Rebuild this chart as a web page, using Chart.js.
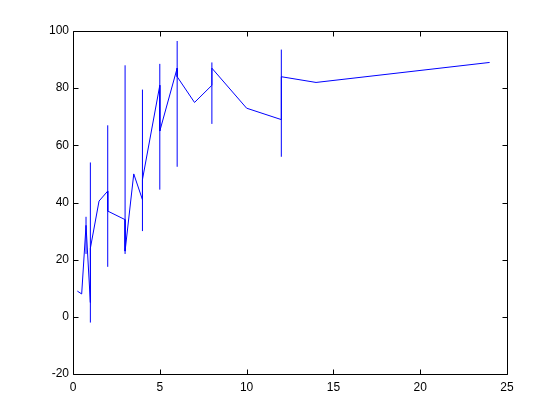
<!DOCTYPE html>
<html>
<head>
<meta charset="utf-8">
<script src="https://cdn.jsdelivr.net/npm/chart.js@4"></script>
<style>
  html, body { margin: 0; padding: 0; background: #fff; }
  #wrap { width: 560px; height: 420px; }
</style>
</head>
<body>
<div id="wrap"><canvas id="myChart" width="560" height="420"></canvas></div>
<script>
// measured points (x repeats where the curve jumps)
const xVals = [0.25, 0.5, 0.75, 1, 1, 1.5, 2, 2, 3, 3, 3.5, 4, 4, 5, 5, 6, 6, 7, 8, 8, 10, 12, 12, 14, 24];
const yVals = [9, 8, 32, 5, 24, 40.5, 44, 37, 34, 23, 50, 41, 48, 81, 65, 87, 84, 75, 81, 87, 73, 69, 84, 82, 89];

// error bars: position, low end, high end
const errX    = [0.75, 1, 2, 3, 4, 5, 6, 8, 12];
const errLow  = [22, -2, 17.5, 22, 30, 44.5, 52.5, 67.5, 56];
const errHigh = [35, 54, 67, 88, 79.5, 88.5, 96.5, 89, 93.5];

const xTicks = [0, 5, 10, 15, 20, 25];
const yTicks = [-20, 0, 20, 40, 60, 80, 100];

const linePts = xVals.map((x, i) => ({ x: x, y: yVals[i] }));

// each bar is its own segment, split by a null point
const barPts = [];
errX.forEach((x, i) => {
  barPts.push({ x: x, y: errLow[i] });
  barPts.push({ x: x, y: errHigh[i] });
  barPts.push({ x: x, y: null });
});

// box round the plot with inward ticks on every side (matlab look)
const boxPlugin = {
  id: 'box',
  afterDraw(chart) {
    const c = chart.ctx;
    const a = chart.chartArea;
    const xs = chart.scales.x;
    const ys = chart.scales.y;
    const L = Math.round(a.left) + 0.5, R = Math.round(a.right) + 0.5;
    const T = Math.round(a.top) + 0.5, B = Math.round(a.bottom) + 0.5;
    const len = 5;
    c.save();
    c.strokeStyle = '#000';
    c.lineWidth = 1;
    c.beginPath();
    c.rect(L, T, R - L, B - T);
    xTicks.forEach(v => {
      const px = Math.round(xs.getPixelForValue(v)) + 0.5;
      c.moveTo(px, B); c.lineTo(px, B - len);
      c.moveTo(px, T); c.lineTo(px, T + len);
    });
    yTicks.forEach(v => {
      const py = Math.round(ys.getPixelForValue(v)) + 0.5;
      c.moveTo(L, py); c.lineTo(L + len, py);
      c.moveTo(R, py); c.lineTo(R - len, py);
    });
    c.stroke();
    c.restore();
  }
};

const ctx = document.getElementById('myChart');
new Chart(ctx, {
  type: 'scatter',
  data: {
    datasets: [{
      label: 'errors',
      data: barPts,
      showLine: true,
      spanGaps: false,
      borderColor: '#0000ff',
      borderWidth: 1,
      pointRadius: 0
    }, {
      label: 'data',
      data: linePts,
      showLine: true,
      borderColor: '#0000ff',
      borderWidth: 1,
      pointRadius: 0,
      tension: 0
    }]
  },
  options: {
    responsive: false,
    animation: false,
    layout: { padding: { top: 31, right: 53, left: 0, bottom: 0 } },
    plugins: {
      legend: { display: false },
      tooltip: { enabled: false }
    },
    scales: {
      x: {
        type: 'linear',
        min: 0,
        max: 25,
        afterFit: s => { s.height = 46; },
        afterBuildTicks: s => { s.ticks = xTicks.map(v => ({ value: v })); },
        grid: { display: false, drawTicks: false },
        border: { display: false },
        ticks: { padding: 6, color: '#000', font: { family: 'Liberation Sans', size: 12 } }
      },
      y: {
        type: 'linear',
        min: -20,
        max: 100,
        afterFit: s => { s.width = 73; },
        afterBuildTicks: s => { s.ticks = yTicks.map(v => ({ value: v })); },
        grid: { display: false, drawTicks: false },
        border: { display: false },
        ticks: { padding: 4, color: '#000', font: { family: 'Liberation Sans', size: 12 } }
      }
    }
  },
  plugins: [boxPlugin]
});
</script>
</body>
</html>
